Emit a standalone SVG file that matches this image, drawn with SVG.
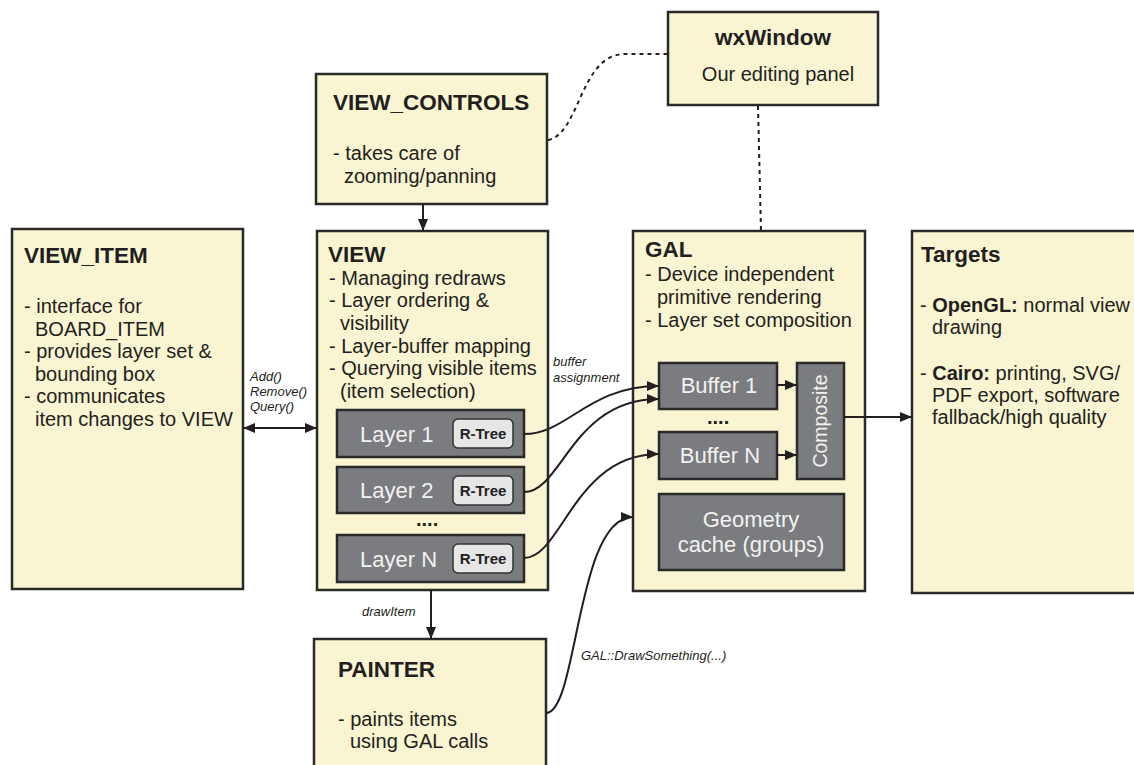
<svg xmlns="http://www.w3.org/2000/svg" width="1134" height="765" viewBox="0 0 1134 765">
  <style>
    .node { fill: #f9f4d1; stroke: #2a2a2a; stroke-width: 2.5; }
    .block { fill: #7b7c7f; stroke: #2a2a2a; stroke-width: 2.5; }
    .tag { fill: #e6e6e6; stroke: #333333; stroke-width: 1.5; }
    .title { font-family: "Liberation Sans", Arial, sans-serif; font-weight: bold; font-size: 22.5px; fill: #231f20; }
    .body { font-family: "Liberation Sans", Arial, sans-serif; font-size: 20px; fill: #231f20; }
    .bold { font-weight: bold; }
    .inner { font-family: "Liberation Sans", Arial, sans-serif; font-size: 22px; fill: #f2f2f2; }
    .tagtext { font-family: "Liberation Sans", Arial, sans-serif; font-weight: bold; font-size: 15px; fill: #222222; text-anchor: middle; }
    .label { font-family: "Liberation Sans", Arial, sans-serif; font-style: italic; font-size: 13px; fill: #231f20; }
    .dots { font-family: "Liberation Sans", Arial, sans-serif; font-weight: bold; font-size: 20px; fill: #231f20; }
    .wire { fill: none; stroke: #231f20; stroke-width: 2; }
    .dashed { fill: none; stroke: #231f20; stroke-width: 2; stroke-dasharray: 4 4; }
  </style>
  <defs>
    <marker id="arrow" viewBox="0 0 12 10" refX="12" refY="5" markerWidth="12" markerHeight="10" markerUnits="userSpaceOnUse" orient="auto-start-reverse">
      <path d="M0,0 L12,5 L0,10 Z" fill="#231f20"/>
    </marker>
  </defs>

  <!-- wxWindow -->
  <g id="wxwindow">
    <rect class="node" x="668" y="12" width="210" height="93"/>
    <text class="title" x="773" y="45" text-anchor="middle">wxWindow</text>
    <text class="body" x="778" y="81" text-anchor="middle">Our editing panel</text>
  </g>

  <!-- VIEW_CONTROLS -->
  <g id="view-controls">
    <rect class="node" x="316" y="74" width="231" height="130"/>
    <text class="title" x="333" y="110">VIEW_CONTROLS</text>
    <text class="body" x="333" y="160">- takes care of</text>
    <text class="body" x="344" y="183">zooming/panning</text>
  </g>

  <!-- VIEW_ITEM -->
  <g id="view-item">
    <rect class="node" x="12" y="229" width="231" height="360"/>
    <text class="title" x="24" y="263">VIEW_ITEM</text>
    <text class="body" x="24" y="313">- interface for</text>
    <text class="body" x="35" y="336">BOARD_ITEM</text>
    <text class="body" x="24" y="358">- provides layer set &amp;</text>
    <text class="body" x="35" y="381">bounding box</text>
    <text class="body" x="24" y="403">- communicates</text>
    <text class="body" x="35" y="426">item changes to VIEW</text>
  </g>

  <!-- VIEW with its layers -->
  <g id="view">
    <rect class="node" x="317" y="231" width="231" height="359"/>
    <text class="title" x="328" y="262">VIEW</text>
    <text class="body" x="329" y="285">- Managing redraws</text>
    <text class="body" x="329" y="307">- Layer ordering &amp;</text>
    <text class="body" x="340" y="330">visibility</text>
    <text class="body" x="329" y="353">- Layer-buffer mapping</text>
    <text class="body" x="329" y="375">- Querying visible items</text>
    <text class="body" x="340" y="398">(item selection)</text>
  </g>
  <g id="layer-1">
    <rect class="block" x="337" y="410" width="187" height="47"/>
    <text class="inner" x="360" y="442">Layer 1</text>
    <rect class="tag" x="453" y="419" width="60" height="29" rx="5"/>
    <text class="tagtext" x="483" y="439">R-Tree</text>
  </g>
  <g id="layer-2">
    <rect class="block" x="337" y="467" width="187" height="46"/>
    <text class="inner" x="360" y="498">Layer 2</text>
    <rect class="tag" x="453" y="476" width="60" height="29" rx="5"/>
    <text class="tagtext" x="483" y="496">R-Tree</text>
  </g>
  <text class="dots" x="416" y="526">....</text>
  <g id="layer-n">
    <rect class="block" x="337" y="535" width="187" height="47"/>
    <text class="inner" x="360" y="567">Layer N</text>
    <rect class="tag" x="453" y="544" width="60" height="29" rx="5"/>
    <text class="tagtext" x="483" y="564">R-Tree</text>
  </g>

  <!-- GAL with buffers -->
  <g id="gal">
    <rect class="node" x="633" y="231" width="232" height="360"/>
    <text class="title" x="645" y="257">GAL</text>
    <text class="body" x="645" y="281">- Device independent</text>
    <text class="body" x="657" y="304">primitive rendering</text>
    <text class="body" x="645" y="327">- Layer set composition</text>
  </g>
  <g id="buffer-1">
    <rect class="block" x="659" y="363" width="118" height="46"/>
    <text class="inner" x="719" y="393" text-anchor="middle">Buffer 1</text>
  </g>
  <text class="dots" x="707" y="424">....</text>
  <g id="buffer-n">
    <rect class="block" x="659" y="432" width="118" height="47"/>
    <text class="inner" x="720" y="463" text-anchor="middle">Buffer N</text>
  </g>
  <g id="composite">
    <rect class="block" x="797" y="363" width="47" height="116"/>
    <text class="inner" style="font-size:19.5px" transform="translate(827,421) rotate(-90)" text-anchor="middle">Composite</text>
  </g>
  <g id="geometry-cache">
    <rect class="block" x="659" y="494" width="185" height="76"/>
    <text class="inner" x="751" y="527" text-anchor="middle">Geometry</text>
    <text class="inner" x="751" y="552" text-anchor="middle">cache (groups)</text>
  </g>

  <!-- Targets -->
  <g id="targets">
    <rect class="node" x="912" y="231" width="240" height="362"/>
    <text class="title" x="921" y="262">Targets</text>
    <text class="body" x="920" y="312">- <tspan class="bold">OpenGL:</tspan> normal view</text>
    <text class="body" x="932" y="334">drawing</text>
    <text class="body" x="920" y="380">- <tspan class="bold">Cairo:</tspan> printing, SVG/</text>
    <text class="body" x="932" y="402">PDF export, software</text>
    <text class="body" x="932" y="424">fallback/high quality</text>
  </g>

  <!-- PAINTER -->
  <g id="painter">
    <rect class="node" x="314" y="639" width="232" height="140"/>
    <text class="title" x="338" y="677">PAINTER</text>
    <text class="body" x="338" y="726">- paints items</text>
    <text class="body" x="350" y="748">using GAL calls</text>
  </g>

  <!-- connectors, drawn last so they sit on top of the containers -->
  <g id="connectors">
    <path class="dashed" d="M548,140 C580,134 580,54 625,54 L668,54"/>
    <path class="dashed" d="M758,106 L761,231"/>
    <path class="wire" d="M423,204 L423,231" marker-end="url(#arrow)"/>
    <path class="wire" d="M243,428 L317,428" marker-start="url(#arrow)" marker-end="url(#arrow)"/>
    <path class="wire" d="M431,590 L431,639" marker-end="url(#arrow)"/>
    <path class="wire" d="M524,434 C568,434 588,386 659,386" marker-end="url(#arrow)"/>
    <path class="wire" d="M524,492 C562,492 572,399 659,399" marker-end="url(#arrow)"/>
    <path class="wire" d="M524,558 C562,558 574,454 659,454" marker-end="url(#arrow)"/>
    <path class="wire" d="M546,713 C578,713 576,517 633,517" marker-end="url(#arrow)"/>
    <path class="wire" d="M777,385 L797,385" marker-end="url(#arrow)"/>
    <path class="wire" d="M777,455 L797,455" marker-end="url(#arrow)"/>
    <path class="wire" d="M844,417 L912,417" marker-end="url(#arrow)"/>
    <text class="label" x="250" y="381">Add()</text>
    <text class="label" x="250" y="396">Remove()</text>
    <text class="label" x="250" y="411">Query()</text>
    <text class="label" x="553" y="366">buffer</text>
    <text class="label" x="553" y="382">assignment</text>
    <text class="label" x="362" y="616">drawItem</text>
    <text class="label" x="581" y="660">GAL::DrawSomething(...)</text>
  </g>
</svg>
